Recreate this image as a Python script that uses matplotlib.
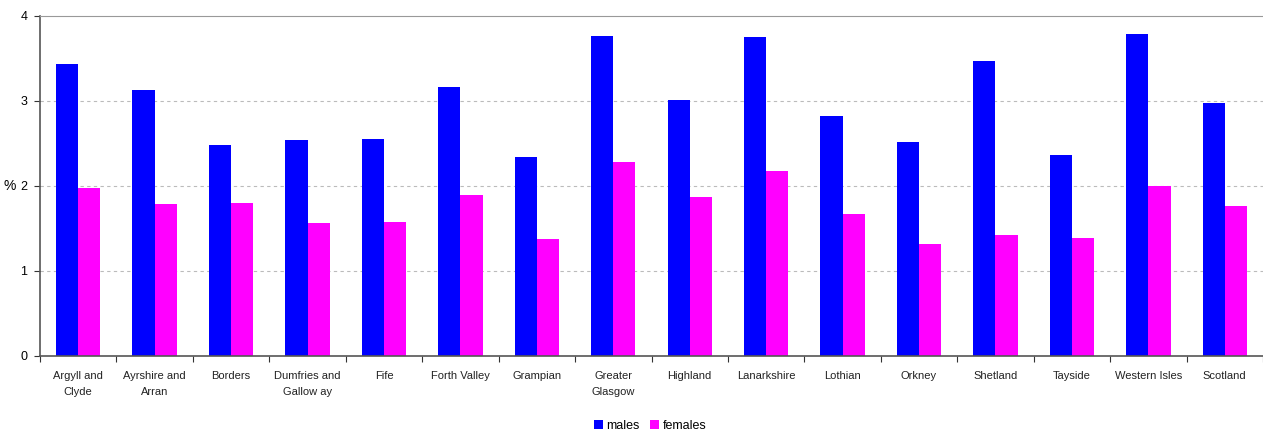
import numpy as np
import matplotlib.pyplot as plt
from matplotlib.ticker import FixedLocator

regions = ["Argyll and\nClyde", "Ayrshire and\nArran", "Borders", "Dumfries and\nGallow ay",
           "Fife", "Forth Valley", "Grampian", "Greater\nGlasgow", "Highland", "Lanarkshire",
           "Lothian", "Orkney", "Shetland", "Tayside", "Western Isles", "Scotland"]
males = [3.43, 3.13, 2.48, 2.54, 2.55, 3.16, 2.34, 3.76, 3.01, 3.75,
         2.82, 2.52, 3.47, 2.36, 3.78, 2.97]
females = [1.97, 1.79, 1.80, 1.56, 1.58, 1.89, 1.38, 2.28, 1.87, 2.17,
           1.67, 1.32, 1.42, 1.39, 2.00, 1.76]

plt.rcParams['font.family'] = ['Liberation Sans', 'DejaVu Sans']

fig = plt.figure(figsize=(12.63, 4.32), dpi=100)
ax = fig.add_axes([40 / 1263, 1 - 356 / 432, 1223 / 1263, (356 - 15.7) / 432])

x = np.arange(len(regions))
w = 0.29
ax.bar(x - w / 2, males, w, color="#0000ff", label="males")
ax.bar(x + w / 2, females, w, color="#ff00ff", label="females")

ax.set_xlim(-0.5, len(regions) - 0.5)
ax.set_ylim(0, 4)
ax.set_yticks([0, 1, 2, 3, 4])
ax.set_xticks(x)
ax.set_xticklabels(regions, fontsize=8, color="#222222", linespacing=1.75)
ax.xaxis.set_minor_locator(FixedLocator(np.arange(-0.5, len(regions), 1.0)))
ax.tick_params(axis="x", which="major", length=0, pad=11)
ax.tick_params(axis="x", which="minor", length=4, width=0.8, color="#333333")
ax.tick_params(axis="y", length=4, width=0.8, labelsize=9, color="#333333", pad=5)

# dashed grid lines
for y in [1, 2, 3]:
    ax.axhline(y, color="#bbbbbb", linestyle=(0, (3, 3)), linewidth=0.8, zorder=0)

ax.spines["right"].set_visible(False)
ax.spines["top"].set_color("#999999")
ax.spines["left"].set_color("#555555")
ax.spines["bottom"].set_color("#555555")
ax.spines["left"].set_linewidth(1.2)
ax.spines["bottom"].set_linewidth(1.2)

ax.set_ylabel("%", rotation=0, fontsize=10, ha="center", va="center")
ax.yaxis.set_label_coords(-0.0245, 0.5)

fig.legend(loc="center", bbox_to_anchor=(650 / 1263, 1 - 426 / 432), ncol=2, frameon=False,
           fontsize=9, handlelength=0.7, handleheight=0.7, handletextpad=0.3, columnspacing=0.8)

fig.savefig("out.png", dpi=100)
